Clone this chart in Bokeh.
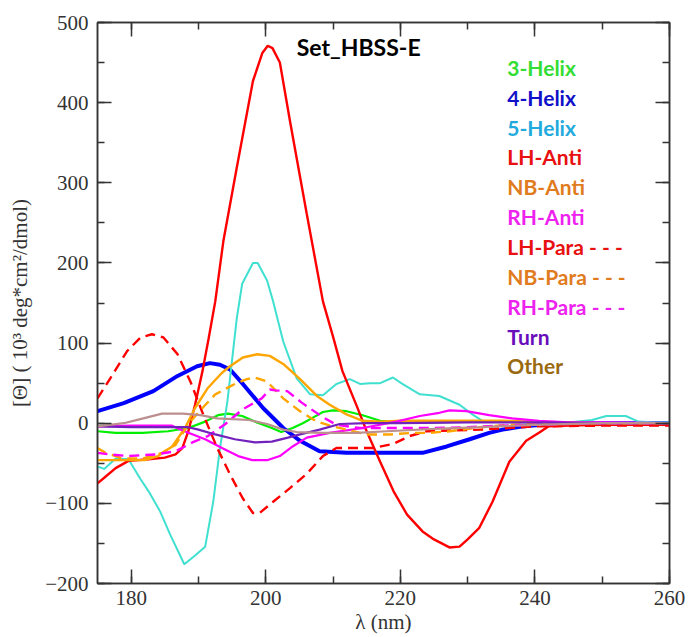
from bokeh.plotting import figure
from bokeh.models import (LinearAxis, SingleIntervalTicker, Range1d,
                          CustomJSTickFormatter, ColumnDataSource, Label)
from bokeh.embed import file_html
from bokeh.resources import INLINE
from bokeh.core.properties import value

# ---------------- data ----------------
x_3helix = [175, 177.7, 181.7, 185.5, 188.5, 191, 192.9, 194.4, 196.5, 198.4, 200.9, 202.3, 204, 205.5, 207, 208.5, 210, 212, 214.4, 217, 220, 225, 230, 235, 240, 245, 250, 260]
y_3helix = [-10, -12, -12, -10, -6, 2, 10, 12, 9, 2, -6, -11, -6, 0, 7, 14, 16, 15, 10, 3, 1, 1, 2, 2, 1, 0, 0, 0]

x_4helix = [175, 178.9, 183.3, 186.9, 189.8, 191.7, 193.2, 194.7, 196.6, 199.6, 202.6, 205.1, 208, 212, 218, 223.3, 226.9, 230.3, 233.2, 235.2, 238, 241, 245, 250, 260]
y_4helix = [15, 25, 40, 59, 71, 75, 73, 67, 49, 19, -6, -22, -35, -37, -37, -37, -29, -20, -12, -8, -4, -2, -1, 0, 0]

x_5helix = [175, 176, 177.7, 179.6, 181.4, 182.6, 184.3, 185.8, 187.9, 189.5, 191, 192.2, 193.2, 194.3, 195.7, 196.5, 198.1, 198.8, 200.2, 201.1, 202.6, 204.6, 206.6, 208.5, 210.5, 212.5, 214, 215.5, 217, 218.9, 220.3, 222.9, 225.8, 228.8, 230.7, 232.2, 235, 240, 245, 248.5, 250.6, 253.5, 255.4, 258, 260]
y_5helix = [-54, -57, -44, -45, -70, -85, -110, -139, -176, -165, -154, -98, -31, 27, 131, 174, 200, 200, 178, 152, 102, 56, 36, 35, 49, 55, 49, 50, 50, 57, 49, 36, 34, 23, 11, 3, 2, 1, 1, 4, 9, 9, 2, 1, 1]

x_lhanti = [175, 176, 177.7, 179.6, 182.6, 185, 186.6, 187.6, 188.5, 189.5, 190.6, 191.5, 192.5, 193.7, 195.7, 198.1, 199.5, 200.3, 201, 202.1, 203.6, 206.1, 208.5, 210, 211.4, 213.5, 215, 217, 219, 221, 223.3, 225, 227.3, 228.8, 230, 231.7, 233.7, 236.2, 238.7, 240.6, 242, 245, 250, 255, 260]
y_lhanti = [-75, -68, -56, -47, -45, -43, -39, -31, -10, 23, 65, 105, 152, 227, 319, 427, 462, 471, 468, 450, 377, 261, 152, 108, 65, 22, -10, -48, -85, -114, -135, -145, -155, -154, -145, -131, -98, -48, -22, -12, -4, -3, -2, -2, -2]

x_nbanti = [175, 178, 182, 184, 186.1, 188, 189.5, 191.4, 193.5, 194.7, 196.6, 198.7, 200.6, 202.6, 205.1, 207.6, 209.5, 212, 214.4, 217, 220, 225, 230, 235, 240, 245, 250, 260]
y_nbanti = [-46, -46, -46, -41, -29, -6, 19, 44, 63, 71, 82, 86, 84, 74, 55, 34, 23, 11, 3, 2, 3, 3, 3, 3, 2, 1, 0, 0]

x_rhanti = [175, 180, 186, 188.5, 191, 193.5, 195.9, 198, 200.3, 202.1, 204, 206.1, 209.5, 214.4, 219.4, 222.9, 225.8, 227.3, 229.8, 233.2, 236.6, 240.6, 245, 250, 260]
y_rhanti = [-4, -3, -3, -12, -20, -31, -41, -46, -46, -41, -29, -18, -12, -6, 2, 9, 13, 16, 15, 10, 6, 3, 1, 1, 0]

x_lhpara = [175, 176.9, 179.4, 181.4, 183.1, 184.8, 186.9, 188.8, 190.7, 192.8, 194.7, 196.6, 198.1, 199.1, 201.1, 203.6, 206.1, 208.5, 210.5, 212, 215.9, 218.9, 221.4, 223.9, 228, 232, 236, 240, 250, 260]
y_lhpara = [31, 56, 90, 107, 111, 107, 86, 52, 11, -31, -64, -94, -112, -112, -98, -81, -63, -41, -31, -31, -31, -26, -16, -10, -9, -8, -6, -4, -3, -3]

x_nbpara = [175, 176.2, 178.7, 181.7, 184.6, 186.6, 188.5, 190.6, 192.5, 195.4, 197.2, 198.4, 200.2, 202.6, 205.1, 207.6, 210, 212, 215, 218.4, 221.8, 224.3, 227.3, 232, 236, 240, 250, 260]
y_nbpara = [-31, -37, -44, -44, -37, -27, -1, 19, 36, 49, 55, 57, 52, 31, 15, 2, -4, -8, -14, -14, -12, -12, -10, -5, -2, -1, 0, 0]

x_rhpara = [175, 176.8, 179.6, 183.6, 186.6, 189.1, 191.4, 194, 196.5, 199.4, 200.6, 201.4, 203.2, 205.3, 208.2, 210.5, 214, 220, 225, 230, 235, 240, 250, 260]
y_rhpara = [-37, -39, -41, -39, -35, -24, -16, -1, 17, 31, 42, 41, 40, 26, 9, -2, -6, -6, -6, -5, -3, -2, 0, 0]

x_turn = [175, 180, 185, 188.5, 190, 192.5, 195.4, 198.4, 200.9, 203.3, 205.1, 208, 211, 215, 220, 230, 240, 250, 260]
y_turn = [-4, -5, -5, -5, -8, -14, -20, -24, -23, -18, -14, -8, -1, 0, 0, 1, 1, 0, 0]

x_other = [175, 178.9, 181.8, 184.6, 187.7, 190.3, 192.8, 195.1, 197.5, 200.2, 202.6, 204.6, 208.5, 213.5, 218, 225, 232, 240, 250, 260]
y_other = [-4, 0, 6, 12, 12, 10, 6, 5, 4, -1, -8, -11, -12, -12, -10, -7, -5, -2, 0, 0]

legend_labels = ["3-Helix", "4-Helix", "5-Helix", "LH-Anti", "NB-Anti", "RH-Anti",
                 "LH-Para - - -", "NB-Para - - -", "RH-Para - - -", "Turn", "Other"]
legend_colors = ["#33DD33", "#1010C8", "#22AADD", "#E81010", "#E07B20", "#EE22EE",
                 "#E81010", "#E07B20", "#EE22EE", "#6A0DBB", "#9A6A10"]
title_text = "Set_HBSS-E"
x_ticks_interval = 20
y_ticks_interval = 100

# ---------------- figure ----------------
p = figure(width=688, height=637, x_range=Range1d(175, 260), y_range=Range1d(-200, 500),
           output_backend="svg", toolbar_location=None,
           min_border_left=97, min_border_right=19, min_border_top=22, min_border_bottom=54)
p.xgrid.visible = False
p.ygrid.visible = False
p.outline_line_color = "#333333"
p.outline_line_width = 1.5
p.background_fill_color = "white"
p.border_fill_color = "white"

AX = "#333333"
for ax in (p.xaxis[0], p.yaxis[0]):
    ax.axis_line_color = AX
    ax.axis_line_width = 1.5
    ax.major_tick_in = 14
    ax.major_tick_out = 0
    ax.minor_tick_in = 7
    ax.minor_tick_out = 0
    ax.major_tick_line_color = AX
    ax.minor_tick_line_color = AX
    ax.major_tick_line_width = 1.5
    ax.minor_tick_line_width = 1.5
    ax.major_label_text_font = "Liberation Serif"
    ax.major_label_text_font_size = "21px"
    ax.major_label_text_color = "#333333"
    ax.axis_label_text_font = "Liberation Serif"
    ax.axis_label_text_font_size = "21px"
    ax.axis_label_text_font_style = "normal"
    ax.axis_label_text_color = "#333333"

p.xaxis[0].ticker = SingleIntervalTicker(interval=x_ticks_interval, num_minor_ticks=2)
p.yaxis[0].ticker = SingleIntervalTicker(interval=y_ticks_interval, num_minor_ticks=2)
p.xaxis[0].axis_label = "λ (nm)"
p.yaxis[0].axis_label = "[Θ] ( 10³ deg*cm²/dmol)"
p.xaxis[0].major_label_standoff = 7
p.yaxis[0].major_label_standoff = 9
p.yaxis[0].axis_label_standoff = 10
p.xaxis[0].axis_label_standoff = 2

empty = CustomJSTickFormatter(code="return ''")
for loc, interval in (("right", y_ticks_interval), ("above", x_ticks_interval)):
    ax = LinearAxis(ticker=SingleIntervalTicker(interval=interval, num_minor_ticks=2),
                    formatter=empty)
    ax.axis_line_color = AX
    ax.axis_line_width = 1.5
    ax.major_tick_in = 14
    ax.major_tick_out = 0
    ax.minor_tick_in = 7
    ax.minor_tick_out = 0
    ax.major_tick_line_color = AX
    ax.minor_tick_line_color = AX
    ax.major_tick_line_width = 1.5
    ax.minor_tick_line_width = 1.5
    ax.major_label_text_font_size = "0px"
    ax.major_label_standoff = 0
    p.add_layout(ax, loc)

# ---------------- curves ----------------
series = [
    (x_3helix, y_3helix, "#00EE00", 2.2, "solid"),
    (x_4helix, y_4helix, "#0000FF", 4.0, "solid"),
    (x_5helix, y_5helix, "#40E0D0", 2.0, "solid"),
    (x_lhanti, y_lhanti, "#FF0000", 2.4, "solid"),
    (x_nbanti, y_nbanti, "#FFA500", 2.4, "solid"),
    (x_rhanti, y_rhanti, "#FF00FF", 2.2, "solid"),
    (x_lhpara, y_lhpara, "#FF0000", 2.4, "10 6"),
    (x_nbpara, y_nbpara, "#FFA500", 2.4, "10 6"),
    (x_rhpara, y_rhpara, "#FF00FF", 2.4, "10 6"),
    (x_turn, y_turn, "#7221BC", 2.2, "solid"),
    (x_other, y_other, "#BC8F8F", 2.2, "solid"),
]
for xs, ys, c, w, d in series:
    p.line(xs, ys, line_color=c, line_width=w, line_dash=d)

# ---------------- title & text legend ----------------
p.add_layout(Label(x=204.6, y=470, text=title_text, text_font="Lato",
                   text_font_style="bold", text_font_size="23px",
                   text_color="black", text_baseline="middle"))

leg_x0, leg_y0, leg_dy = 235.9, 444, 37.25
src = ColumnDataSource(dict(
    x=[leg_x0] * len(legend_labels),
    y=[leg_y0 - i * leg_dy for i in range(len(legend_labels))],
    t=legend_labels, c=legend_colors))
p.text(x="x", y="y", text="t", text_color="c", source=src,
       text_font=value("Lato"), text_font_style="bold", text_font_size="21px",
       text_baseline="middle", text_align="left")

open("out.html", "w").write(file_html(p, INLINE))
